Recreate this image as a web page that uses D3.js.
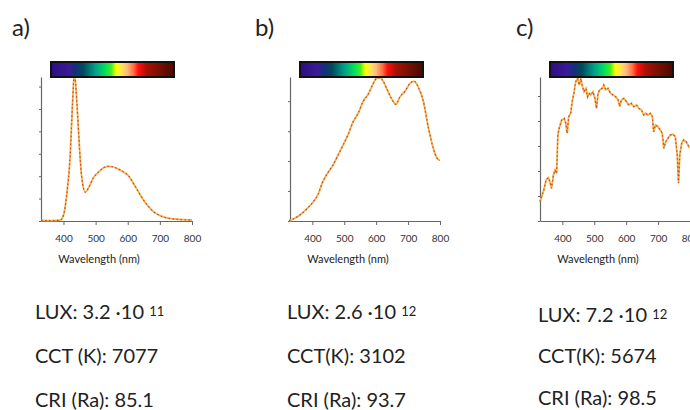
<!DOCTYPE html>
<html>
<head>
<meta charset="utf-8">
<script src="https://cdn.jsdelivr.net/npm/d3@7"></script>
<style>
  body { margin: 0; background: #fff; }
  text { font-family: Lato, "Open Sans", sans-serif; fill: #222; }
</style>
</head>
<body>
<svg id="chart" width="690" height="410"></svg>
<script>
// spectra (relative intensity, 1 = top of axis)
const aWavelength = [330, 360, 390, 400, 410, 421, 428, 434, 442, 450, 457, 468, 478, 493, 509, 525, 540, 556, 571, 587, 602, 618, 634, 649, 665, 680, 701, 722, 743, 774, 800];
const aIntensity = [0.004, 0.003, 0.006, 0.04, 0.18, 0.46, 0.81, 1.03, 0.81, 0.50, 0.30, 0.20, 0.23, 0.30, 0.34, 0.37, 0.38, 0.375, 0.36, 0.34, 0.315, 0.26, 0.20, 0.146, 0.10, 0.065, 0.037, 0.021, 0.014, 0.009, 0.007];

const bWavelength = [327, 340, 361, 382, 403, 418, 432, 450, 465, 481, 497, 512, 528, 544, 559, 575, 591, 601, 612, 622, 633, 648, 662, 674, 690, 706, 719, 732, 748, 763, 779, 791, 800];
const bIntensity = [0.002, 0.014, 0.042, 0.083, 0.134, 0.185, 0.27, 0.34, 0.389, 0.46, 0.53, 0.60, 0.69, 0.75, 0.83, 0.88, 0.956, 0.99, 0.995, 0.97, 0.92, 0.85, 0.81, 0.86, 0.90, 0.956, 0.97, 0.93, 0.83, 0.655, 0.505, 0.435, 0.42];

const cWavelength = [330, 335, 342, 349, 356, 361, 366, 372, 377, 382, 386, 390, 398, 406, 411, 415, 420, 426, 431, 437,
  442, 448, 453, 458, 463, 468, 474, 479, 484, 489, 496, 502, 507, 512, 517, 525, 530, 536, 543, 551,
  559, 567, 575, 580, 585, 593, 601, 608, 616, 624, 632, 640, 648, 655, 661, 668, 676, 682, 686, 692,
  700, 707, 713, 718, 724, 731, 738, 747, 754, 760, 764, 768, 774, 780, 788, 799];
const cIntensity = [0.134, 0.169, 0.215, 0.285, 0.301, 0.273, 0.227, 0.319, 0.354, 0.331, 0.597, 0.644, 0.701, 0.713, 0.678, 0.609, 0.725, 0.748, 0.829, 0.898,
  0.968, 0.991, 0.944, 0.991, 0.933, 0.898, 0.921, 0.863, 0.887, 0.875, 0.898, 0.852, 0.782, 0.887, 0.91, 0.921, 0.944, 0.91, 0.921, 0.887,
  0.875, 0.863, 0.840, 0.794, 0.840, 0.852, 0.829, 0.806, 0.817, 0.794, 0.806, 0.782, 0.771, 0.736, 0.748, 0.736, 0.748, 0.725, 0.620, 0.667,
  0.655, 0.632, 0.609, 0.505, 0.551, 0.574, 0.597, 0.602, 0.586, 0.458, 0.262, 0.458, 0.539, 0.563, 0.551, 0.505];

const panelLabels = ['a)', 'b)', 'c)'];
const xTicks = [400, 500, 600, 700, 800];
const luxMantissa = ['3.2', '2.6', '7.2'];
const luxExponent = ['11', '12', '12'];
const cctLabels = ['CCT (K): 7077', 'CCT(K): 3102', 'CCT(K): 5674'];
const criLabels = ['CRI (Ra): 85.1', 'CRI (Ra): 93.7', 'CRI (Ra): 98.5'];

const svg = d3.select('#chart');

// spectrum strip gradient
const grad = svg.append('defs').append('linearGradient').attr('id', 'spectrum');
[[0, '#2a0f80'], [0.14, '#3a1a98'], [0.2, '#12307a'], [0.26, '#004a5c'], [0.36, '#00a088'],
 [0.44, '#00e060'], [0.49, '#40f020'], [0.53, '#ffff00'], [0.58, '#ffe060'], [0.62, '#ffb880'],
 [0.67, '#ff7040'], [0.71, '#ff1010'], [0.78, '#a81000'], [0.9, '#701000'], [1, '#4a0800']]
  .forEach(s => grad.append('stop').attr('offset', s[0]).attr('stop-color', s[1]));

const panels = [
  {wl: aWavelength, val: aIntensity, left: 41, right: 192, yStep: 0.1556, labelX: 12, textX: 35, luxY: 319, cctY: 363, criY: 407, curve: d3.curveMonotoneX},
  {wl: bWavelength, val: bIntensity, left: 290, right: 440, yStep: 0.208, labelX: 255, textX: 287, luxY: 319, cctY: 363, criY: 407, curve: d3.curveMonotoneX},
  {wl: cWavelength, val: cIntensity, left: 540, right: 690, yStep: 0.1736, labelX: 516, textX: 538, luxY: 322, cctY: 363, criY: 405, curve: d3.curveLinear}
];

panels.forEach((p, i) => {
  const x = d3.scaleLinear().domain([330, 800]).range([p.left, p.right]);
  const y = d3.scaleLinear().domain([0, 1]).range([221, 77]);
  const g = svg.append('g');

  // panel letter
  g.append('text').attr('x', p.labelX).attr('y', 36)
    .style('font-size', '24px').text(panelLabels[i]);

  // axes
  const xAxis = g.append('g').attr('transform', 'translate(0,221)')
    .call(d3.axisBottom(x).tickValues(xTicks).tickSize(4).tickSizeOuter(0).tickPadding(10));
  const yTickVals = d3.range(0, 1.0001, p.yStep);
  const yAxis = g.append('g').attr('transform', `translate(${p.left},0)`)
    .call(d3.axisLeft(y).tickValues(yTickVals).tickSize(2).tickSizeOuter(0).tickFormat(''));
  [xAxis, yAxis].forEach(ax => {
    ax.select('.domain').attr('stroke', '#666').attr('stroke-width', 1.2);
    ax.selectAll('.tick line').attr('stroke', '#666');
  });
  xAxis.selectAll('.tick text').style('font-size', '10px').style('fill', '#333')
    .style('font-family', 'Lato, sans-serif');

  g.append('text').attr('x', p.left + 58).attr('y', 263)
    .attr('text-anchor', 'middle').style('font-size', '11px').text('Wavelength (nm)');

  // spectrum line: orange with red dashes
  const line = d3.line().x(d => x(d[0])).y(d => y(d[1])).curve(p.curve);
  const pts = p.wl.map((w, k) => [w, p.val[k]]);
  g.append('path').datum(pts).attr('d', line)
    .attr('fill', 'none').attr('stroke', '#f5b04a').attr('stroke-width', 1.8);
  g.append('path').datum(pts).attr('d', line)
    .attr('fill', 'none').attr('stroke', '#c4482a').attr('stroke-width', 1.2)
    .attr('stroke-dasharray', '1.5,2.5');

  // colour strip on top
  const barX = x(330) + 10;
  g.append('rect').attr('x', barX).attr('y', 62).attr('width', 123).attr('height', 15)
    .attr('fill', 'url(#spectrum)').attr('stroke', '#111').attr('stroke-width', 2);

  // figures below
  const lux = g.append('text').attr('x', p.textX).attr('y', p.luxY).style('font-size', '20px');
  lux.append('tspan').text(`LUX: ${luxMantissa[i]} \u00b710 `);
  lux.append('tspan').attr('dy', -3).style('font-size', '13px').text(luxExponent[i]);
  g.append('text').attr('x', p.textX).attr('y', p.cctY).style('font-size', '20px').text(cctLabels[i]);
  g.append('text').attr('x', p.textX).attr('y', p.criY).style('font-size', '20px').text(criLabels[i]);
});
</script>
</body>
</html>
